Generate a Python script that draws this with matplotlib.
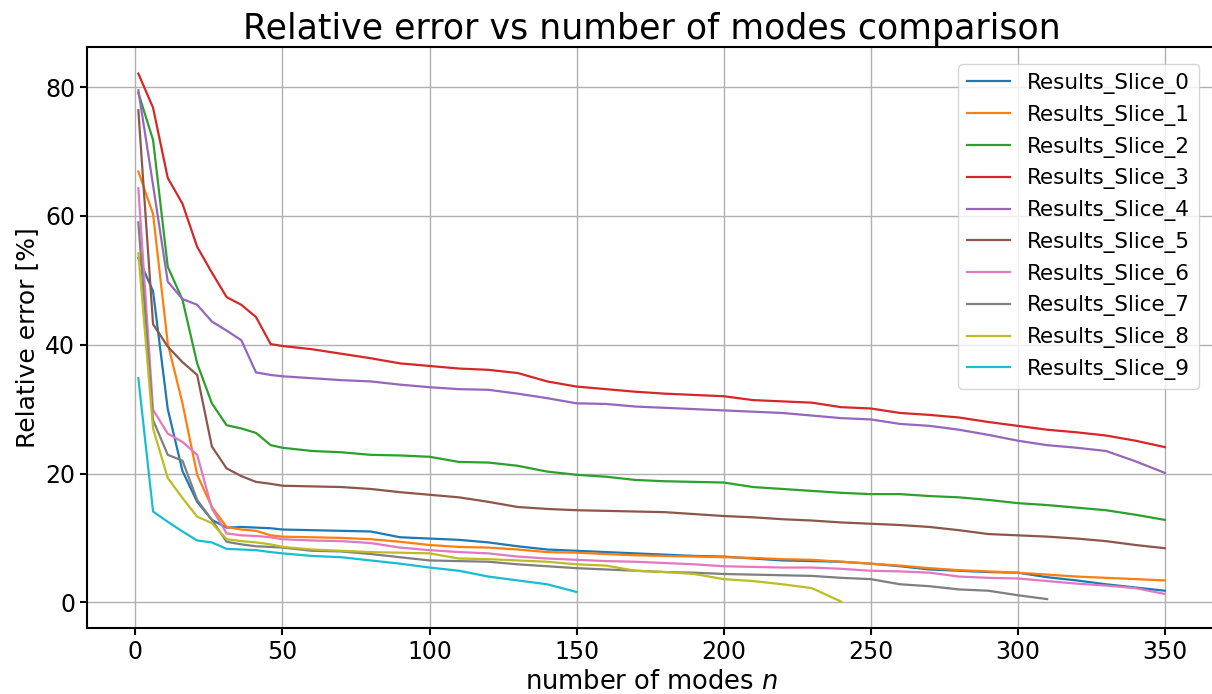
# Relative error vs number of modes, one line per slice
import matplotlib
matplotlib.use("Agg")
import matplotlib.pyplot as plt

# number of modes n used in the study
n_early = [1, 6, 11, 16, 21, 26, 31, 36, 41, 46]
n_late = [50, 60, 70, 80, 90, 100, 110, 120, 130, 140, 150, 160, 170, 180, 190, 200,
          210, 220, 230, 240, 250, 260, 270, 280, 290, 300, 310, 320, 330, 340, 350]

# relative error [%] per slice
slice_0 = [53.5, 48.3, 30.0, 20.4, 15.6, 12.8, 11.6, 11.7, 11.6, 11.5,
           11.3, 11.2, 11.1, 11.0, 10.1, 9.9, 9.7, 9.3, 8.7, 8.2, 8.0, 7.8, 7.6, 7.4, 7.2, 7.1,
           6.8, 6.5, 6.4, 6.3, 6.0, 5.6, 5.1, 4.9, 4.7, 4.6, 3.9, 3.4, 2.8, 2.3, 1.8]
slice_1 = [66.9, 60.3, 40.2, 30.9, 19.8, 14.8, 11.7, 11.3, 11.1, 10.4,
           10.2, 10.1, 10.0, 9.8, 9.4, 8.9, 8.6, 8.5, 8.2, 7.8, 7.7, 7.5, 7.3, 7.2, 7.1, 7.0,
           6.9, 6.7, 6.6, 6.3, 6.0, 5.7, 5.3, 5.0, 4.8, 4.6, 4.3, 4.0, 3.8, 3.6, 3.4]
slice_2 = [79.1, 71.8, 52.1, 47.0, 37.1, 30.9, 27.5, 27.0, 26.3, 24.4,
           24.0, 23.5, 23.3, 22.9, 22.8, 22.6, 21.8, 21.7, 21.2, 20.3, 19.8, 19.5, 19.0, 18.8, 18.7, 18.6,
           17.9, 17.6, 17.3, 17.0, 16.8, 16.8, 16.5, 16.3, 15.9, 15.4, 15.1, 14.7, 14.3, 13.6, 12.8]
slice_3 = [82.1, 76.8, 65.9, 61.9, 55.2, 51.2, 47.4, 46.2, 44.3, 40.1,
           39.8, 39.3, 38.6, 37.9, 37.1, 36.7, 36.3, 36.1, 35.6, 34.3, 33.5, 33.1, 32.7, 32.4, 32.2, 32.0,
           31.4, 31.2, 31.0, 30.3, 30.1, 29.4, 29.1, 28.7, 28.0, 27.4, 26.8, 26.4, 25.9, 25.1, 24.1]
slice_4 = [79.5, 64.8, 49.8, 47.1, 46.2, 43.6, 42.2, 40.7, 35.7, 35.3,
           35.1, 34.8, 34.5, 34.3, 33.8, 33.4, 33.1, 33.0, 32.4, 31.7, 30.9, 30.8, 30.4, 30.2, 30.0, 29.8,
           29.6, 29.4, 29.0, 28.6, 28.4, 27.7, 27.4, 26.8, 26.0, 25.1, 24.4, 24.0, 23.5, 21.9, 20.1]
slice_5 = [76.4, 43.2, 39.7, 37.3, 35.3, 24.2, 20.8, 19.6, 18.7, 18.4,
           18.1, 18.0, 17.9, 17.6, 17.1, 16.7, 16.3, 15.6, 14.8, 14.5, 14.3, 14.2, 14.1, 14.0, 13.7, 13.4,
           13.2, 12.9, 12.7, 12.4, 12.2, 12.0, 11.7, 11.2, 10.6, 10.4, 10.2, 9.9, 9.5, 8.9, 8.4]
slice_6 = [64.3, 29.9, 26.2, 24.9, 22.9, 14.6, 10.7, 10.4, 10.3, 10.1,
           9.8, 9.6, 9.5, 9.2, 8.5, 8.1, 7.8, 7.6, 7.1, 6.8, 6.6, 6.4, 6.3, 6.1, 5.9, 5.6,
           5.5, 5.4, 5.4, 5.2, 4.9, 4.8, 4.6, 4.0, 3.8, 3.7, 3.3, 2.9, 2.6, 2.2, 1.3]
slice_7 = [59.0, 28.3, 22.9, 22.0, 15.9, 12.8, 9.4, 9.0, 8.7, 8.6,
           8.5, 8.0, 7.9, 7.5, 7.0, 6.5, 6.4, 6.3, 5.9, 5.6, 5.3, 5.1, 4.9, 4.7, 4.6, 4.4,
           4.3, 4.2, 4.1, 3.8, 3.6, 2.8, 2.5, 2.0, 1.8, 1.1, 0.5]
slice_8 = [54.2, 27.0, 19.3, 16.2, 13.3, 12.3, 9.8, 9.5, 9.3, 9.0,
           8.6, 8.2, 8.0, 7.8, 7.7, 7.6, 6.8, 6.7, 6.5, 6.3, 5.9, 5.7, 4.9, 4.7, 4.4, 3.6,
           3.3, 2.8, 2.2, 0.1]
slice_9 = [34.8, 14.1, 12.5, 11.0, 9.6, 9.3, 8.3, 8.2, 8.1, 7.8,
           7.6, 7.2, 7.0, 6.5, 6.0, 5.4, 4.9, 4.0, 3.4, 2.8, 1.6]

slices = [slice_0, slice_1, slice_2, slice_3, slice_4,
          slice_5, slice_6, slice_7, slice_8, slice_9]

fig = plt.figure(figsize=(12.12, 6.94), dpi=100)
ax = fig.add_axes([0.0718, 0.095, 0.9316, 0.837])

n_all = n_early + n_late
for i, err in enumerate(slices):
    ax.plot(n_all[:len(err)], err, label="Results_Slice_" + str(i), linewidth=1.6)

ax.set_title("Relative error vs number of modes comparison", fontsize=25)
ax.set_xlabel("number of modes $n$", fontsize=18.5)
ax.set_ylabel("Relative error [%]", fontsize=18)
ax.tick_params(labelsize=17, width=1.5, length=5)
for sp in ax.spines.values():
    sp.set_linewidth(1.5)
ax.grid(True, linewidth=1.0)
ax.legend(loc="upper right", fontsize=15.5, borderaxespad=0.8)

plt.savefig("out.png", dpi=100)
